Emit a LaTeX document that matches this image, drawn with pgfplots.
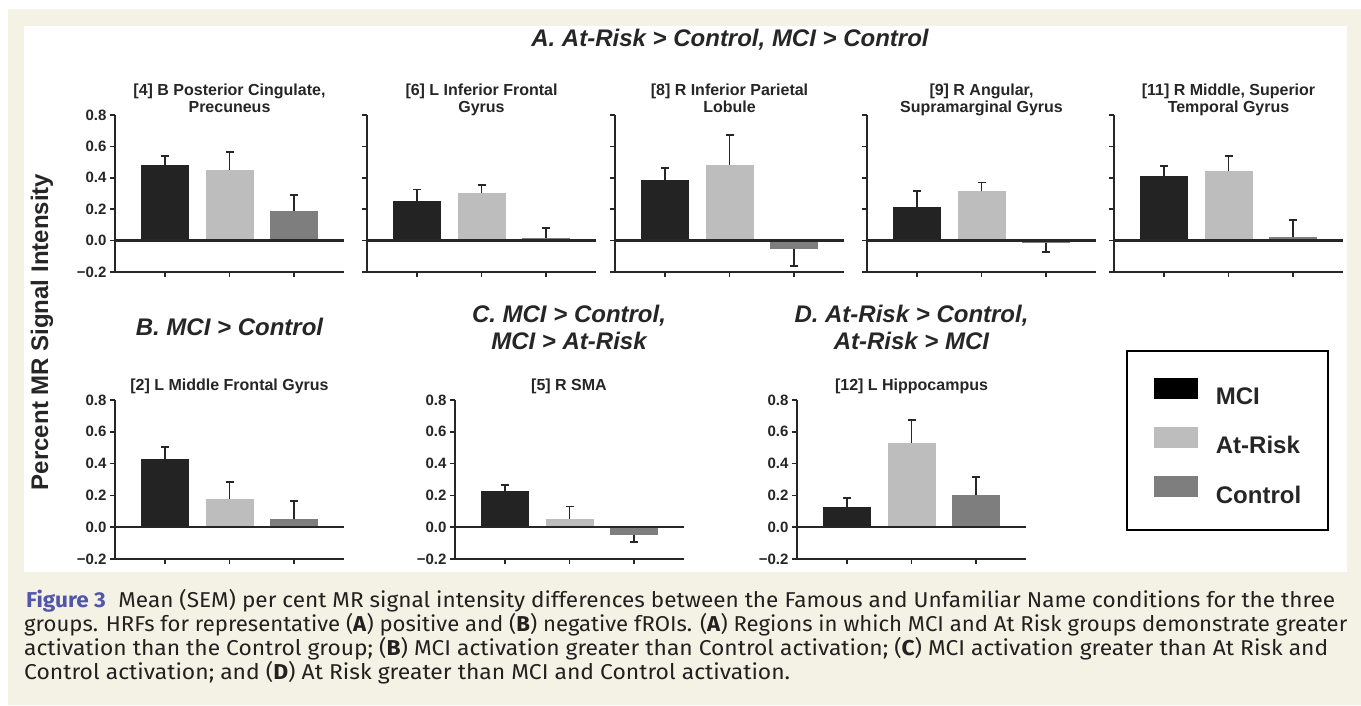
\documentclass[border=0pt]{standalone}
\usepackage{fontspec}
\usepackage{graphicx}
\usepackage{pgfplots}
\pgfplotsset{compat=1.18}
\setmainfont{Liberation Sans}
\newfontfamily\capfont{Fira Sans}

\definecolor{beige}{RGB}{244,241,229}
\definecolor{mci}{RGB}{35,35,35}
\definecolor{atrisk}{RGB}{189,189,189}
\definecolor{ctrl}{RGB}{126,126,126}
\definecolor{ink}{RGB}{38,38,38}
\definecolor{figblue}{RGB}{82,86,170}
\definecolor{captext}{RGB}{35,32,32}

\newcommand\subfont{\fontsize{16}{17}\selectfont\bfseries}
\newcommand\secfont{\fontsize{24}{27}\selectfont\bfseries\itshape}

\pgfplotsset{
  panel/.style={
    scale only axis, width=229pt, height=157pt,
    xmin=0.23, xmax=3.77, ymin=-0.2, ymax=0.8, enlargelimits=false,
    axis x line*=bottom, axis y line*=left,
    axis line style={ink, line width=2.3pt, -},
    xtick={1,2,3}, xticklabels={},
    ytick={-0.2,0,0.2,0.4,0.6,0.8},
    yticklabels={−0.2,0.0,0.2,0.4,0.6,0.8},
    tick align=outside, major tick length=5pt,
    every tick/.style={ink, line width=1.7pt},
    yticklabel style={font=\fontsize{15}{15}\selectfont\bfseries, text=ink},
    clip=false,
  },
  nolab/.style={yticklabels={}},
  bar/.style={ybar, bar width=48pt, bar shift=0pt, draw=none, fill=#1, forget plot},
  eplus/.style={error bars/.cd, y dir=plus, y explicit,
    error bar style={ink, line width=1.8pt},
    error mark options={ink, line width=1.8pt, mark size=4pt, rotate=90}},
  eminus/.style={error bars/.cd, y dir=minus, y explicit,
    error bar style={ink, line width=1.8pt},
    error mark options={ink, line width=1.8pt, mark size=4pt, rotate=90}},
}
\newcommand\zeroline{\draw[ink, line width=2.3pt] (axis cs:0.23,0) -- (axis cs:3.77,0);}

\begin{document}
\begin{tikzpicture}[x=1pt,y=1pt]
\useasboundingbox (0,0) rectangle (1361,705);
\fill[white] (0,0) rectangle (1361,705);
\fill[beige] (8,0) rectangle (1361,696);
\fill[white] (24,{705-572}) rectangle (1347,{705-26});

% ---------- Top row ----------
\begin{axis}[panel, at={(115pt,{705pt-272pt})}, anchor=south west]
\addplot[bar=mci, eplus] coordinates {(1,0.484) +- (0,0.053)};
\addplot[bar=atrisk, eplus] coordinates {(2,0.450) +- (0,0.114)};
\addplot[bar=ctrl, eplus] coordinates {(3,0.190) +- (0,0.100)};
\zeroline
\end{axis}

\begin{axis}[panel, nolab, at={(367pt,{705pt-272pt})}, anchor=south west]
\addplot[bar=mci, eplus] coordinates {(1,0.250) +- (0,0.076)};
\addplot[bar=atrisk, eplus] coordinates {(2,0.300) +- (0,0.056)};
\addplot[bar=ctrl, eplus] coordinates {(3,0.015) +- (0,0.065)};
\zeroline
\end{axis}

\begin{axis}[panel, nolab, at={(615pt,{705pt-272pt})}, anchor=south west]
\addplot[bar=mci, eplus] coordinates {(1,0.387) +- (0,0.076)};
\addplot[bar=atrisk, eplus] coordinates {(2,0.484) +- (0,0.190)};
\addplot[bar=ctrl, eminus] coordinates {(3,-0.055) +- (0,0.107)};
\zeroline
\end{axis}

\begin{axis}[panel, nolab, at={(867pt,{705pt-272pt})}, anchor=south west]
\addplot[bar=mci, eplus] coordinates {(1,0.215) +- (0,0.099)};
\addplot[bar=atrisk, eplus] coordinates {(2,0.314) +- (0,0.056)};
\addplot[bar=ctrl, eminus] coordinates {(3,-0.013) +- (0,0.061)};
\zeroline
\end{axis}

\begin{axis}[panel, nolab, at={(1114pt,{705pt-272pt})}, anchor=south west]
\addplot[bar=mci, eplus] coordinates {(1,0.410) +- (0,0.064)};
\addplot[bar=atrisk, eplus] coordinates {(2,0.442) +- (0,0.099)};
\addplot[bar=ctrl, eplus] coordinates {(3,0.021) +- (0,0.112)};
\zeroline
\end{axis}

% ---------- Bottom row ----------
\begin{axis}[panel, height=159pt, at={(115pt,{705pt-559pt})}, anchor=south west]
\addplot[bar=mci, eplus] coordinates {(1,0.427) +- (0,0.076)};
\addplot[bar=atrisk, eplus] coordinates {(2,0.178) +- (0,0.107)};
\addplot[bar=ctrl, eplus] coordinates {(3,0.054) +- (0,0.109)};
\zeroline
\end{axis}

\begin{axis}[panel, height=159pt, at={(455pt,{705pt-559pt})}, anchor=south west]
\addplot[bar=mci, eplus] coordinates {(1,0.226) +- (0,0.040)};
\addplot[bar=atrisk, eplus] coordinates {(2,0.054) +- (0,0.076)};
\addplot[bar=ctrl, eminus] coordinates {(3,-0.048) +- (0,0.046)};
\zeroline
\end{axis}

\begin{axis}[panel, height=159pt, at={(797pt,{705pt-559pt})}, anchor=south west,
  legend image code/.code={\fill[#1] (0pt,-2.5pt) rectangle (44pt,18.5pt);},
  legend style={at={(1.4367,1.3145)}, anchor=north west, draw=black, line width=1.8pt,
    fill=white, inner xsep=27pt, inner ysep=27pt, row sep=22pt, column sep=18pt,
    nodes={inner sep=0pt, text depth=0pt},
    font=\fontsize{24}{24}\selectfont\bfseries, text=ink},
  legend cell align=left]
\addplot[bar=mci, eplus] coordinates {(1,0.124) +- (0,0.061)};
\addplot[bar=atrisk, eplus] coordinates {(2,0.528) +- (0,0.144)};
\addplot[bar=ctrl, eplus] coordinates {(3,0.204) +- (0,0.112)};
\zeroline
\addlegendimage{fill=black, draw=none}
\addlegendentry{MCI}
\addlegendimage{fill=atrisk, draw=none}
\addlegendentry{At-Risk}
\addlegendimage{fill=ctrl, draw=none}
\addlegendentry{Control}
\end{axis}

% ---------- Titles ----------
\begin{scope}[every node/.style={text=ink, inner sep=0pt}]
\node[anchor=base, font=\secfont] at (730,{705-46.5}) {A. At-Risk > Control, MCI > Control};
\node[anchor=base, font=\secfont] at (229.5,{705-336}) {B. MCI > Control};
\node[anchor=base, font=\secfont] at (569,{705-323}) {C. MCI > Control,};
\node[anchor=base, font=\secfont] at (569,{705-350}) {MCI > At-Risk};
\node[anchor=base, font=\secfont] at (911.5,{705-323}) {D. At-Risk > Control,};
\node[anchor=base, font=\secfont] at (911.5,{705-350}) {At-Risk > MCI};

\node[anchor=base, font=\subfont] at (229.5,{705-96}) {[4] B Posterior Cingulate,};
\node[anchor=base, font=\subfont] at (229.5,{705-113}) {Precuneus};
\node[anchor=base, font=\subfont] at (481.5,{705-96}) {[6] L Inferior Frontal};
\node[anchor=base, font=\subfont] at (481.5,{705-113}) {Gyrus};
\node[anchor=base, font=\subfont] at (729.5,{705-96}) {[8] R Inferior Parietal};
\node[anchor=base, font=\subfont] at (729.5,{705-113}) {Lobule};
\node[anchor=base, font=\subfont] at (981.5,{705-96}) {[9] R Angular,};
\node[anchor=base, font=\subfont] at (981.5,{705-113}) {Supramarginal Gyrus};
\node[anchor=base, font=\subfont] at (1228.5,{705-96}) {[11] R Middle, Superior};
\node[anchor=base, font=\subfont] at (1228.5,{705-113}) {Temporal Gyrus};
\node[anchor=base, font=\subfont] at (229.5,{705-391}) {[2] L Middle Frontal Gyrus};
\node[anchor=base, font=\subfont] at (569,{705-391}) {[5] R SMA};
\node[anchor=base, font=\subfont] at (911.5,{705-391}) {[12] L Hippocampus};

\node[rotate=90, font=\fontsize{24}{24}\selectfont\bfseries] at (42,{705-332}) {Percent MR Signal Intensity};
\end{scope}

% ---------- Caption ----------
\begin{scope}[every node/.style={text=captext, inner sep=0pt, anchor=base west, font=\capfont\fontsize{21.5}{24}\selectfont}]
\node at (26,{705-607}) {\resizebox{1309pt}{\height}{\textcolor{figblue}{\bfseries Figure 3}\hspace{0.55em}Mean (SEM) per cent MR signal intensity differences between the Famous and Unfamiliar Name conditions for the three}};
\node at (24,{705-631}) {\resizebox{1323pt}{\height}{groups. HRFs for representative (\textbf{A}) positive and (\textbf{B}) negative fROIs. (\textbf{A}) Regions in which MCI and At Risk groups demonstrate greater}};
\node at (24,{705-655}) {\resizebox{1304pt}{\height}{activation than the Control group; (\textbf{B}) MCI activation greater than Control activation; (\textbf{C}) MCI activation greater than At Risk and}};
\node at (24,{705-679}) {\resizebox{766pt}{\height}{Control activation; and (\textbf{D}) At Risk greater than MCI and Control activation.}};
\end{scope}
\end{tikzpicture}
\end{document}
